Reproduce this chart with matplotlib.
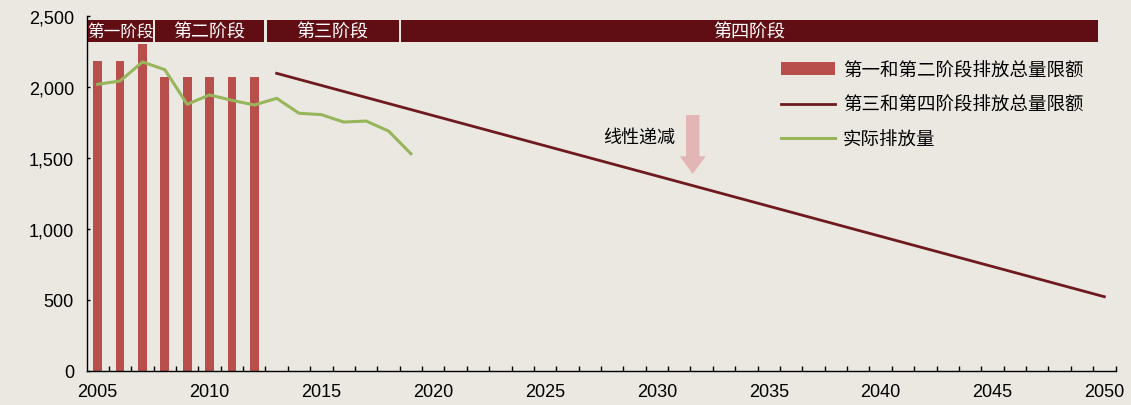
import numpy as np
import matplotlib
matplotlib.use("Agg")
import matplotlib.pyplot as plt
from matplotlib.patches import Rectangle, FancyArrow
from matplotlib.ticker import FuncFormatter

plt.rcParams['font.family'] = ['Liberation Sans', 'Noto Sans CJK SC']

# 第一、二阶段总量限额（柱）
cap_years = [2005, 2006, 2007, 2008, 2009, 2010, 2011, 2012]
cap_values = [2181, 2181, 2300, 2068, 2068, 2068, 2068, 2068]

# 第三、四阶段线性递减限额
trend_years = [2013, 2050]
trend_values = [2094, 521]

# 实际排放量
actual_years = list(range(2005, 2020))
actual_values = [2017, 2040, 2174, 2120, 1876, 1942, 1904, 1871, 1918,
                 1813, 1803, 1751, 1758, 1688, 1528]

# 阶段划分
phase_names = ["第一阶段", "第二阶段", "第三阶段", "第四阶段"]
phase_edges = [2004.5, 2007.5, 2012.5, 2018.5, 2049.75]

bg = "#EBE8E1"
bar_color = "#B84F4C"
dark_red = "#6E1A1E"
banner_color = "#600E14"
green = "#97B55A"
pink = "#E4B5B5"

fig = plt.figure(figsize=(11.31, 4.06), dpi=100, facecolor=bg)
ax = fig.add_axes([0.0765, 0.0845, 0.9098, 0.8744], facecolor=bg)

bars = ax.bar(cap_years, cap_values, width=0.39, color=bar_color,
              label="第一和第二阶段排放总量限额", zorder=2)
trend, = ax.plot(trend_years, trend_values, color=dark_red, lw=2.0,
                 label="第三和第四阶段排放总量限额", zorder=3)
actual, = ax.plot(actual_years, actual_values, color=green, lw=2.2,
                  label="实际排放量", zorder=4)

# 顶部阶段色条
for i, name in enumerate(phase_names):
    x0 = phase_edges[i] + 0.05
    x1 = phase_edges[i + 1] - 0.05
    ax.add_patch(Rectangle((x0, 2317), x1 - x0, 153, facecolor=banner_color,
                           edgecolor="none", zorder=5))
    ax.text((x0 + x1) / 2, 2393, name, color="white", ha="center", va="center",
            fontsize=12 if i == 0 else 13, zorder=6)

# 线性递减箭头
ax.add_patch(FancyArrow(2031.6, 1800, 0, -415, width=0.6, head_width=1.16,
                        head_length=125, length_includes_head=True,
                        color=pink, lw=0, zorder=2))
ax.text(2030.8, 1643, "线性递减", ha="right", va="center", fontsize=13)

ax.set_xlim(2004.5, 2050.5)
ax.set_ylim(0, 2500)

ax.set_xticks(np.arange(2005.5, 2051, 1))
ax.set_xticklabels([])
ax.set_xticks(np.arange(2005, 2051, 5), minor=True)
ax.set_xticklabels([str(y) for y in range(2005, 2051, 5)], minor=True)
ax.tick_params(axis="x", which="major", direction="in", length=3.6, width=1)
ax.tick_params(axis="x", which="minor", length=0, pad=9, labelsize=13)

ax.set_yticks(np.arange(0, 2501, 500))
ax.yaxis.set_major_formatter(FuncFormatter(lambda v, p: f"{int(v):,}"))
ax.tick_params(axis="y", direction="in", length=2.5, width=1, pad=9,
               labelsize=13)

for s in ["top", "right"]:
    ax.spines[s].set_visible(False)
for s in ["left", "bottom"]:
    ax.spines[s].set_linewidth(1)
    ax.spines[s].set_color("black")

ax.legend([bars, trend, actual],
          [bars.get_label(), trend.get_label(), actual.get_label()],
          loc="upper left", bbox_to_anchor=(781 / 1131, 1 - 63 / 406),
          bbox_transform=fig.transFigure, frameon=False, fontsize=13.3,
          handlelength=2.9, handletextpad=0.45, labelspacing=0.95,
          borderpad=0, borderaxespad=0)

fig.savefig("out.png", dpi=100, facecolor=bg)
